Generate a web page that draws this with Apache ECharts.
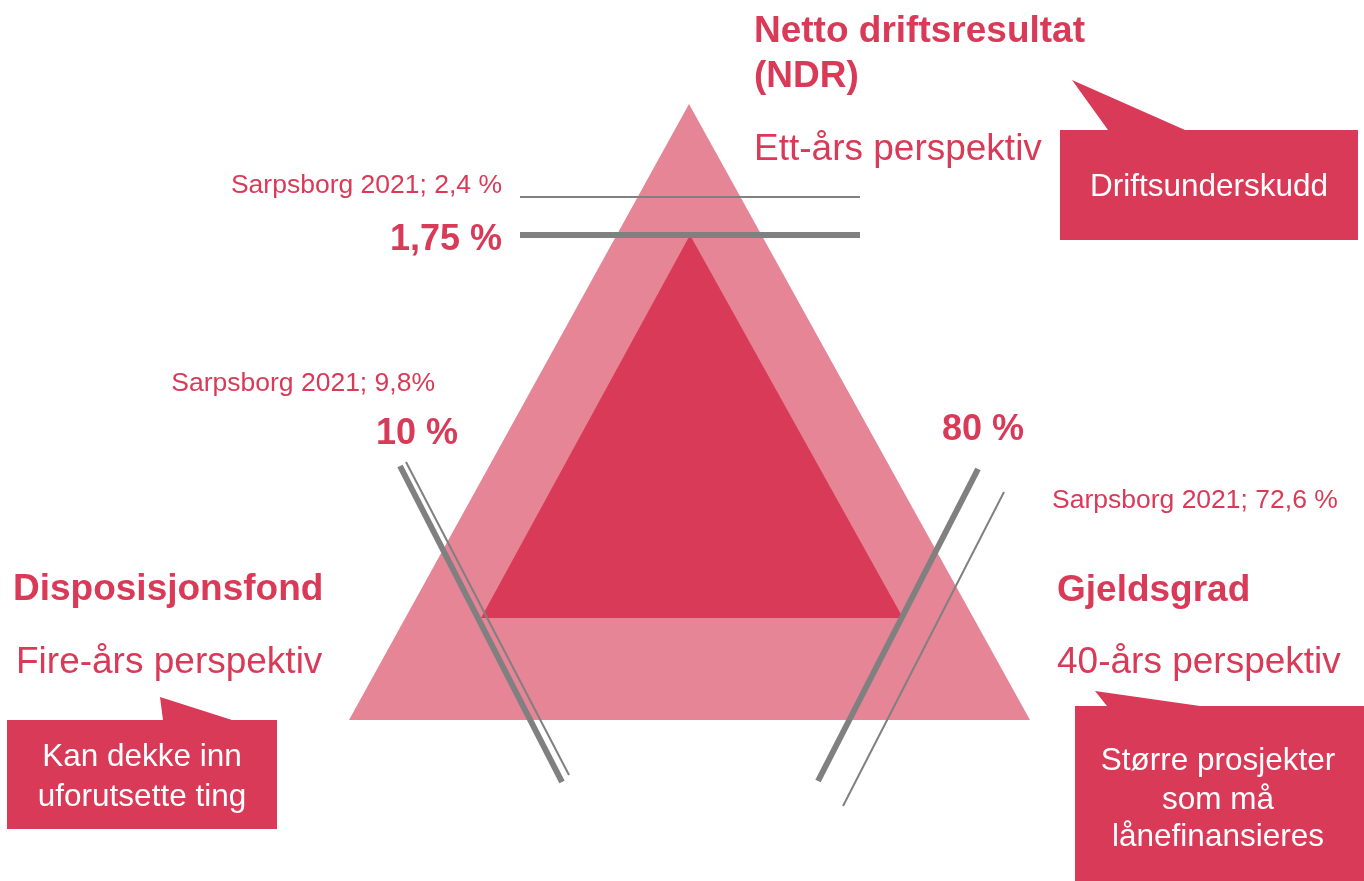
<!DOCTYPE html>
<html>
<head>
<meta charset="utf-8">
<script src="https://cdn.jsdelivr.net/npm/echarts@6/dist/echarts.min.js"></script>
<style>
  html, body { margin: 0; padding: 0; background: #fff; }
  #main { width: 1364px; height: 881px; }
</style>
</head>
<body>
<div id="main"></div>
<script>
// triangles (outer = target area, inner = Sarpsborg)
const outerTriangle = [[689, 104], [349, 720], [1030, 720]]
const innerTriangle = [[690, 235], [481, 618], [903, 618]]

// speech bubbles, tail included
const bubbleTop = [[1060, 130], [1108, 130], [1072, 80], [1185, 130], [1358, 130], [1358, 240], [1060, 240]]
const bubbleLeft = [[7, 720], [163, 720], [160, 697], [232, 720], [277, 720], [277, 829], [7, 829]]
const bubbleRight = [[1075, 706], [1107, 706], [1095, 691], [1200, 706], [1364, 706], [1364, 881], [1075, 881]]

// threshold lines: thick = norm, thin = Sarpsborg 2021
const normTop = [[520, 235], [860, 235]]
const actualTop = [[520, 197], [860, 197]]
const normLeft = [[400, 466], [562, 782]]
const actualLeft = [[406, 462], [569, 775]]
const normRight = [[978, 469], [818, 781]]
const actualRight = [[1004, 492], [843, 806]]

// texts: x, y, text, style
const labels = [
  [754, 32, 'Netto driftsresultat', 'head'],
  [754, 77, '(NDR)', 'head'],
  [754, 150, 'Ett-års perspektiv', 'sub'],
  [1209, 187, 'Driftsunderskudd', 'box'],
  [502, 186, 'Sarpsborg 2021; 2,4 %', 'smallR'],
  [502, 240, '1,75 %', 'normR'],
  [435, 384, 'Sarpsborg 2021; 9,8%', 'smallR'],
  [458, 434, '10 %', 'normR'],
  [942, 430, '80 %', 'normL'],
  [1052, 501, 'Sarpsborg 2021; 72,6 %', 'small'],
  [13, 590, 'Disposisjonsfond', 'head'],
  [16, 663, 'Fire-års perspektiv', 'sub'],
  [142, 757, 'Kan dekke inn', 'box'],
  [142, 797, 'uforutsette ting', 'box'],
  [1057, 591, 'Gjeldsgrad', 'head'],
  [1057, 663, '40-års perspektiv', 'sub'],
  [1218, 761, 'Større prosjekter', 'box'],
  [1218, 800, 'som må', 'box'],
  [1218, 837, 'lånefinansieres', 'box']
]

const red = '#d93a57'
const pink = '#e68595'
const grey = '#808080'
const font = '"Liberation Sans", Arial, sans-serif'

const textStyles = {
  head: { fill: red, font: 'bold 37px ' + font, align: 'left' },
  sub: { fill: red, font: '37px ' + font, align: 'left' },
  box: { fill: '#fff', font: '31.5px ' + font, align: 'center' },
  small: { fill: red, font: '26.5px ' + font, align: 'left' },
  smallR: { fill: red, font: '26.5px ' + font, align: 'right' },
  normR: { fill: red, font: 'bold 36px ' + font, align: 'right' },
  normL: { fill: red, font: 'bold 36px ' + font, align: 'left' }
}

const shapes = [
  { points: outerTriangle, color: pink },
  { points: innerTriangle, color: red },
  { points: bubbleTop, color: red },
  { points: bubbleLeft, color: red },
  { points: bubbleRight, color: red }
]

function lineSeries (data, width) {
  return {
    type: 'line',
    data: data,
    symbol: 'none',
    z: 3,
    lineStyle: { color: grey, width: width },
    silent: true
  }
}

const chart = echarts.init(document.getElementById('main'))
const option = {
  animation: false,
  grid: { left: 0, right: 0, top: 0, bottom: 0 },
  xAxis: { type: 'value', min: 0, max: 1364, show: false },
  yAxis: { type: 'value', min: 0, max: 881, inverse: true, show: false },
  series: [
    {
      type: 'custom',
      clip: false,
      z: 2,
      data: shapes.map((s, i) => [s.points[0][0], s.points[0][1], i]),
      renderItem (params, api) {
        const s = shapes[params.dataIndex]
        return {
          type: 'polygon',
          shape: { points: s.points.map(p => api.coord(p)) },
          style: { fill: s.color }
        }
      }
    },
    lineSeries(normTop, 6),
    lineSeries(actualTop, 2),
    lineSeries(normLeft, 6),
    lineSeries(actualLeft, 2),
    lineSeries(normRight, 6),
    lineSeries(actualRight, 2),
    {
      type: 'custom',
      clip: false,
      z: 5,
      data: labels.map(l => [l[0], l[1]]),
      renderItem (params, api) {
        const l = labels[params.dataIndex]
        const st = textStyles[l[3]]
        const pt = api.coord([l[0], l[1]])
        return {
          type: 'text',
          x: pt[0],
          y: pt[1],
          style: {
            text: l[2],
            fill: st.fill,
            font: st.font,
            align: st.align,
            verticalAlign: 'middle'
          }
        }
      }
    }
  ]
}
chart.setOption(option)
</script>
</body>
</html>
